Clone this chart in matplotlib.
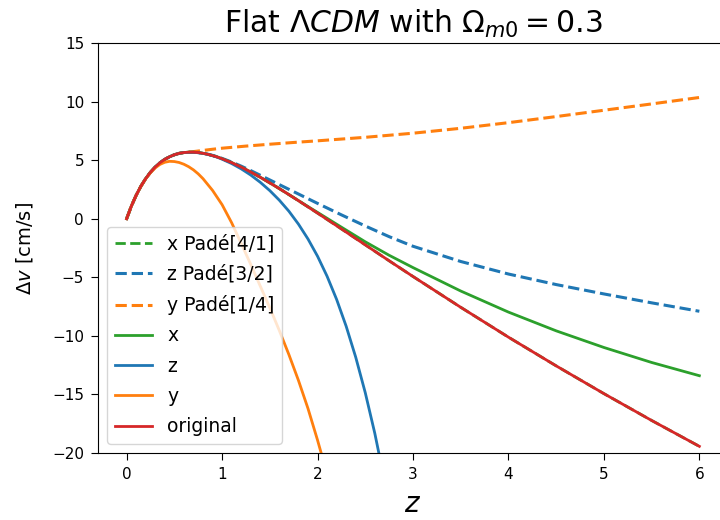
import matplotlib
matplotlib.use("Agg")
import matplotlib.pyplot as plt

# exact drift, cm/s
z_orig = [0.0, 0.05, 0.1, 0.15, 0.2, 0.25, 0.3, 0.35, 0.4, 0.45, 0.5, 0.55, 0.6, 0.65,
          0.7, 0.75, 0.8, 0.85, 0.9, 0.95, 1.0, 1.1, 1.2, 1.3, 1.4, 1.5, 1.6, 1.7, 1.8,
          1.9, 2.0, 2.25, 2.5, 2.75, 3.0, 3.5, 4.0, 4.5, 5.0, 5.5, 6.0]
dv_original = [0.0, 1.085, 2.005, 2.78, 3.43, 3.97, 4.42, 4.78, 5.07, 5.29, 5.46, 5.58,
               5.65, 5.68, 5.68, 5.65, 5.585, 5.50, 5.39, 5.27, 5.12, 4.79, 4.41, 3.99,
               3.54, 3.06, 2.57, 2.06, 1.54, 1.01, 0.48, -0.87, -2.23, -3.59, -4.93,
               -7.56, -10.11, -12.56, -14.93, -17.22, -19.43]

# Pade approximants
dv_x_pade = list(dv_original)

z_zpade = [0.0, 0.05, 0.1, 0.15, 0.2, 0.25, 0.3, 0.35, 0.4, 0.45, 0.5, 0.55, 0.6, 0.65,
           0.7, 0.75, 0.8, 0.85, 0.9, 0.95, 1.0, 1.1, 1.2, 1.3, 1.4, 1.5, 1.6, 1.7, 1.8,
           1.9, 2.0, 2.25, 2.5, 2.75, 3.0, 3.5, 4.0, 4.5, 5.0, 5.5, 6.0]
dv_z_pade = [0.0, 1.085, 2.005, 2.78, 3.43, 3.97, 4.42, 4.78, 5.07, 5.29, 5.46, 5.58,
             5.65, 5.68, 5.68, 5.65, 5.59, 5.51, 5.41, 5.29, 5.15, 4.84, 4.49, 4.11,
             3.71, 3.31, 2.91, 2.51, 2.11, 1.71, 1.31, 0.33, -0.62, -1.53, -2.35,
             -3.65, -4.72, -5.62, -6.42, -7.18, -7.9]

z_ypade = [0.0, 0.05, 0.1, 0.15, 0.2, 0.25, 0.3, 0.35, 0.4, 0.45, 0.5, 0.55, 0.6, 0.65,
           0.7, 0.8, 0.9, 1.0, 1.25, 1.5, 1.75, 2.0, 2.5, 3.0, 3.5, 4.0, 4.5, 5.0, 5.5, 6.0]
dv_y_pade = [0.0, 1.085, 2.005, 2.78, 3.43, 3.97, 4.42, 4.78, 5.07, 5.29, 5.46, 5.58,
             5.65, 5.69, 5.73, 5.83, 5.93, 6.02, 6.2, 6.36, 6.51, 6.65, 6.95, 7.3, 7.72,
             8.2, 8.72, 9.26, 9.8, 10.35]

# truncated series
dv_x = [0.0, 1.085, 2.005, 2.78, 3.43, 3.97, 4.42, 4.78, 5.07, 5.29, 5.46, 5.58,
        5.65, 5.68, 5.68, 5.65, 5.585, 5.50, 5.39, 5.27, 5.12, 4.79, 4.41, 3.99,
        3.54, 3.06, 2.57, 2.06, 1.55, 1.04, 0.54, -0.72, -1.97, -3.12, -4.17,
        -6.17, -7.97, -9.57, -10.99, -12.27, -13.4]

z_z = [0.0, 0.05, 0.1, 0.15, 0.2, 0.25, 0.3, 0.35, 0.4, 0.45, 0.5, 0.55, 0.6, 0.7,
       0.8, 0.85, 0.9, 0.95, 1.0, 1.1, 1.2, 1.3, 1.4, 1.5, 1.6, 1.7, 1.8, 1.9, 2.0,
       2.1, 2.2, 2.3, 2.4, 2.5, 2.6, 2.7]
dv_z = [0.0, 1.085, 2.005, 2.78, 3.43, 3.97, 4.42, 4.78, 5.07, 5.29, 5.46, 5.58, 5.65,
        5.68, 5.58, 5.49, 5.38, 5.25, 5.08, 4.71, 4.26, 3.73, 3.11, 2.40, 1.58, 0.64,
        -0.46, -1.73, -3.20, -4.91, -6.89, -9.18, -11.82, -14.85, -18.32, -22.29]

z_y = [0.0, 0.05, 0.1, 0.15, 0.2, 0.25, 0.3, 0.35, 0.4, 0.45, 0.5, 0.55, 0.6, 0.65,
       0.7, 0.75, 0.8, 0.9, 1.0, 1.1, 1.2, 1.3, 1.4, 1.5, 1.6, 1.7, 1.8, 1.9, 2.0, 2.1]
dv_y = [0.0, 1.085, 2.0, 2.77, 3.41, 3.93, 4.34, 4.64, 4.82, 4.9, 4.88, 4.8, 4.65,
        4.44, 4.17, 3.83, 3.42, 2.42, 1.2, -0.34, -2.1, -3.9, -5.75, -7.6, -9.55,
        -11.6, -13.8, -16.2, -18.9, -21.8]

fig = plt.figure(figsize=(7.2, 5.2), dpi=100)
ax = fig.add_axes([0.1361, 0.1288, 0.875, 0.7885])

ax.plot(z_orig, dv_x_pade, "--", color="tab:green", lw=2, label="x Padé[4/1]")
ax.plot(z_zpade, dv_z_pade, "--", color="tab:blue", lw=2.2, label="z Padé[3/2]")
ax.plot(z_ypade, dv_y_pade, "--", color="tab:orange", lw=2.2, label="y Padé[1/4]")
ax.plot(z_orig, dv_x, color="tab:green", lw=2, label="x")
ax.plot(z_z, dv_z, color="tab:blue", lw=2, label="z")
ax.plot(z_y, dv_y, color="tab:orange", lw=2, label="y")
ax.plot(z_orig, dv_original, color="tab:red", lw=2, label="original")

ax.set_ylim(-20, 15)
ax.set_xlim(-0.3, 6.3)
ax.tick_params(labelsize=11, length=5, pad=5)
ax.set_xlabel(r"$z$", fontsize=20, labelpad=6)
ax.set_ylabel(r"$\Delta v$ [cm/s]", fontsize=14, labelpad=12)
ax.set_title(r"Flat $\Lambda CDM$ with $\Omega_{m0} = 0.3$", fontsize=21.5, pad=7)
ax.legend(loc="lower left", fontsize=13.5, labelspacing=0.6)

fig.savefig("out.png", dpi=100)
